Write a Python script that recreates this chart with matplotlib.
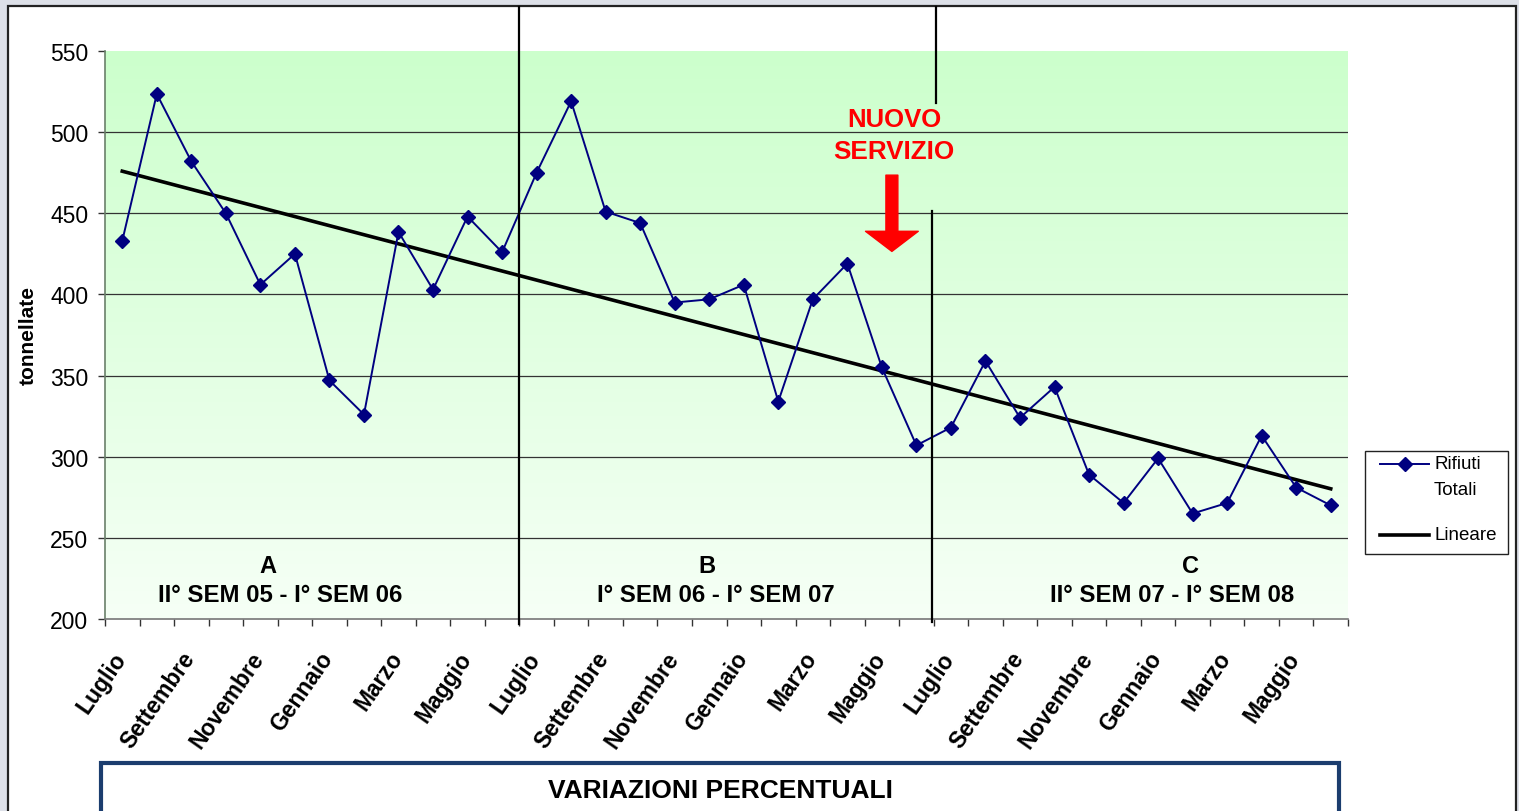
import numpy as np
import matplotlib
matplotlib.use("Agg")
import matplotlib.pyplot as plt
from matplotlib.patches import Rectangle
from matplotlib.lines import Line2D
import matplotlib.transforms as mtransforms

plt.rcParams['font.family'] = ['Liberation Sans', 'DejaVu Sans']

# ---------------- data ----------------
values = [433, 523.5, 482, 450, 406, 425, 347, 326, 438.5, 403, 448, 426,
          475, 519, 451, 444, 395, 397, 406, 334, 397, 419, 355, 307,
          318, 359, 324, 343, 289, 271.5, 299, 265, 271.5, 313, 281, 270]
month_labels = ['Luglio', 'Settembre', 'Novembre', 'Gennaio', 'Marzo', 'Maggio'] * 3
period_letters = ['A', 'B', 'C']
period_names = ['II° SEM 05 - I° SEM 06', 'I° SEM 06 - I° SEM 07', 'II° SEM 07 - I° SEM 08']
yticks = [200, 250, 300, 350, 400, 450, 500, 550]

W, H = 1519, 812
def fx(x): return x / W
def fy(y): return 1 - y / H

fig = plt.figure(figsize=(W / 100, H / 100), dpi=100)
fig.patch.set_facecolor('#dde0e8')

# white chart area with border
fig.patches.append(Rectangle((fx(8), -0.1), fx(1516) - fx(8), fy(7) + 0.1,
                             transform=fig.transFigure, facecolor='white',
                             edgecolor='#222222', lw=1.6, zorder=-10))

ax = fig.add_axes([fx(105), fy(620), fx(1348) - fx(105), fy(52) - fy(620)])
ax.set_facecolor('none')

n = len(values)
x = np.arange(n)
ax.set_xlim(-0.5, n - 0.5)
ax.set_ylim(200, 550)

# gradient background
grad = np.linspace(0, 1, 256).reshape(-1, 1)
top = np.array([204, 255, 204]) / 255
bot = np.array([246, 255, 246]) / 255
img = top[None, None, :] * (1 - grad[:, :, None]) + bot[None, None, :] * grad[:, :, None]
ax.imshow(img, extent=[0, 1, 0, 1], transform=ax.transAxes, aspect='auto',
          zorder=-5, interpolation='bilinear')

# grid
for yv in yticks[1:-1]:
    ax.axhline(yv, color='#333333', lw=0.9, zorder=1)

# series
ax.plot(x, values, color='#000080', lw=1.4, marker='D', markersize=7.5,
        markerfacecolor='#000080', markeredgecolor='#000080', zorder=4)

# linear trend
coef = np.polyfit(x, values, 1)
ax.plot(x, np.polyval(coef, x), color='black', lw=2.6, zorder=3)

# vertical separators
ax.plot([11.48, 11.48], [197, 577], color='black', lw=1.6, clip_on=False, zorder=5)
ax.plot([23.45, 23.45], [198, 451.5], color='black', lw=1.6, clip_on=False, zorder=5)
ax.plot([23.57, 23.57], [518, 577], color='black', lw=1.6, clip_on=False, zorder=5)

# annotations
ax.text(22.35, 508, 'NUOVO', color='#ff0000', fontsize=18.5, fontweight='bold',
        ha='center', va='center', zorder=6)
ax.text(22.35, 488.5, 'SERVIZIO', color='#ff0000', fontsize=18.8, fontweight='bold',
        ha='center', va='center', zorder=6)
ax.annotate('', xy=(22.29, 426.5), xytext=(22.29, 473.5),
            arrowprops=dict(arrowstyle='simple,head_length=1.45,head_width=3.8,tail_width=0.86',
                            color='#ff0000', shrinkA=0, shrinkB=0, mutation_scale=10),
            zorder=6)

letter_x = [4.23, 16.93, 30.93]
name_x = [4.58, 17.19, 30.41]
for lx, nx, let, nm in zip(letter_x, name_x, period_letters, period_names):
    ax.text(lx, 232.7, let, fontsize=17, fontweight='bold', ha='center', va='center')
    ax.text(nx, 214.8, nm, fontsize=17.3, fontweight='bold', ha='center', va='center')

# axes styling
for s in ['top', 'right']:
    ax.spines[s].set_visible(False)
ax.spines['left'].set_color('#6a806a')
ax.spines['bottom'].set_color('#777777')
ax.spines['left'].set_linewidth(1.2)
ax.spines['bottom'].set_linewidth(1.2)

ax.set_yticks(yticks)
ax.set_yticklabels([str(v) for v in yticks], fontsize=16.5)
ax.tick_params(axis='y', direction='out', length=5, width=1, color='#333333', pad=7)

ax.set_xticks(np.arange(0, n, 2))
ax.set_xticklabels(month_labels, fontsize=16.5, fontweight='bold', rotation=55,
                   ha='right', va='center', rotation_mode='anchor')
ax.set_xticks(np.arange(-0.5, n, 1), minor=True)
ax.tick_params(axis='x', which='major', length=0, pad=25)
ax.tick_params(axis='x', which='minor', direction='out', length=5, width=1, color='#333333')
shift = mtransforms.ScaledTranslation(-1 / 100, 0, fig.dpi_scale_trans)
for lbl in ax.get_xticklabels():
    lbl.set_transform(lbl.get_transform() + shift)

fig.text(fx(28), fy(336), 'tonnellate', rotation=90, fontsize=15, fontweight='bold',
         ha='center', va='center')

# legend (manual)
fig.patches.append(Rectangle((fx(1365), fy(555)), fx(1508) - fx(1365), fy(452) - fy(555),
                             transform=fig.transFigure, facecolor='white',
                             edgecolor='#222222', lw=1.0, zorder=2))
fig.lines.append(Line2D([fx(1380), fx(1429)], [fy(465), fy(465)], transform=fig.transFigure,
                        color='#000080', lw=1.4, zorder=3))
fig.lines.append(Line2D([fx(1404.5)], [fy(465)], transform=fig.transFigure,
                        color='#000080', marker='D', markersize=7.5, lw=0, zorder=3))
fig.lines.append(Line2D([fx(1380), fx(1429)], [fy(536), fy(536)], transform=fig.transFigure,
                        color='black', lw=2.6, zorder=3))
fig.text(fx(1434), fy(465), 'Rifiuti', fontsize=13.5, ha='left', va='center')
fig.text(fx(1434), fy(491), 'Totali', fontsize=13.5, ha='left', va='center')
fig.text(fx(1434), fy(536), 'Lineare', fontsize=13.5, ha='left', va='center')

# bottom box
fig.patches.append(Rectangle((fx(101), -0.1), fx(1339) - fx(101), fy(764) + 0.1,
                             transform=fig.transFigure, facecolor='white',
                             edgecolor='#1b3d6e', lw=3, zorder=2))
fig.text(fx(720), fy(791), 'VARIAZIONI PERCENTUALI', fontsize=19, fontweight='bold',
         ha='center', va='center')

fig.savefig('out.png', dpi=100, facecolor=fig.get_facecolor())
